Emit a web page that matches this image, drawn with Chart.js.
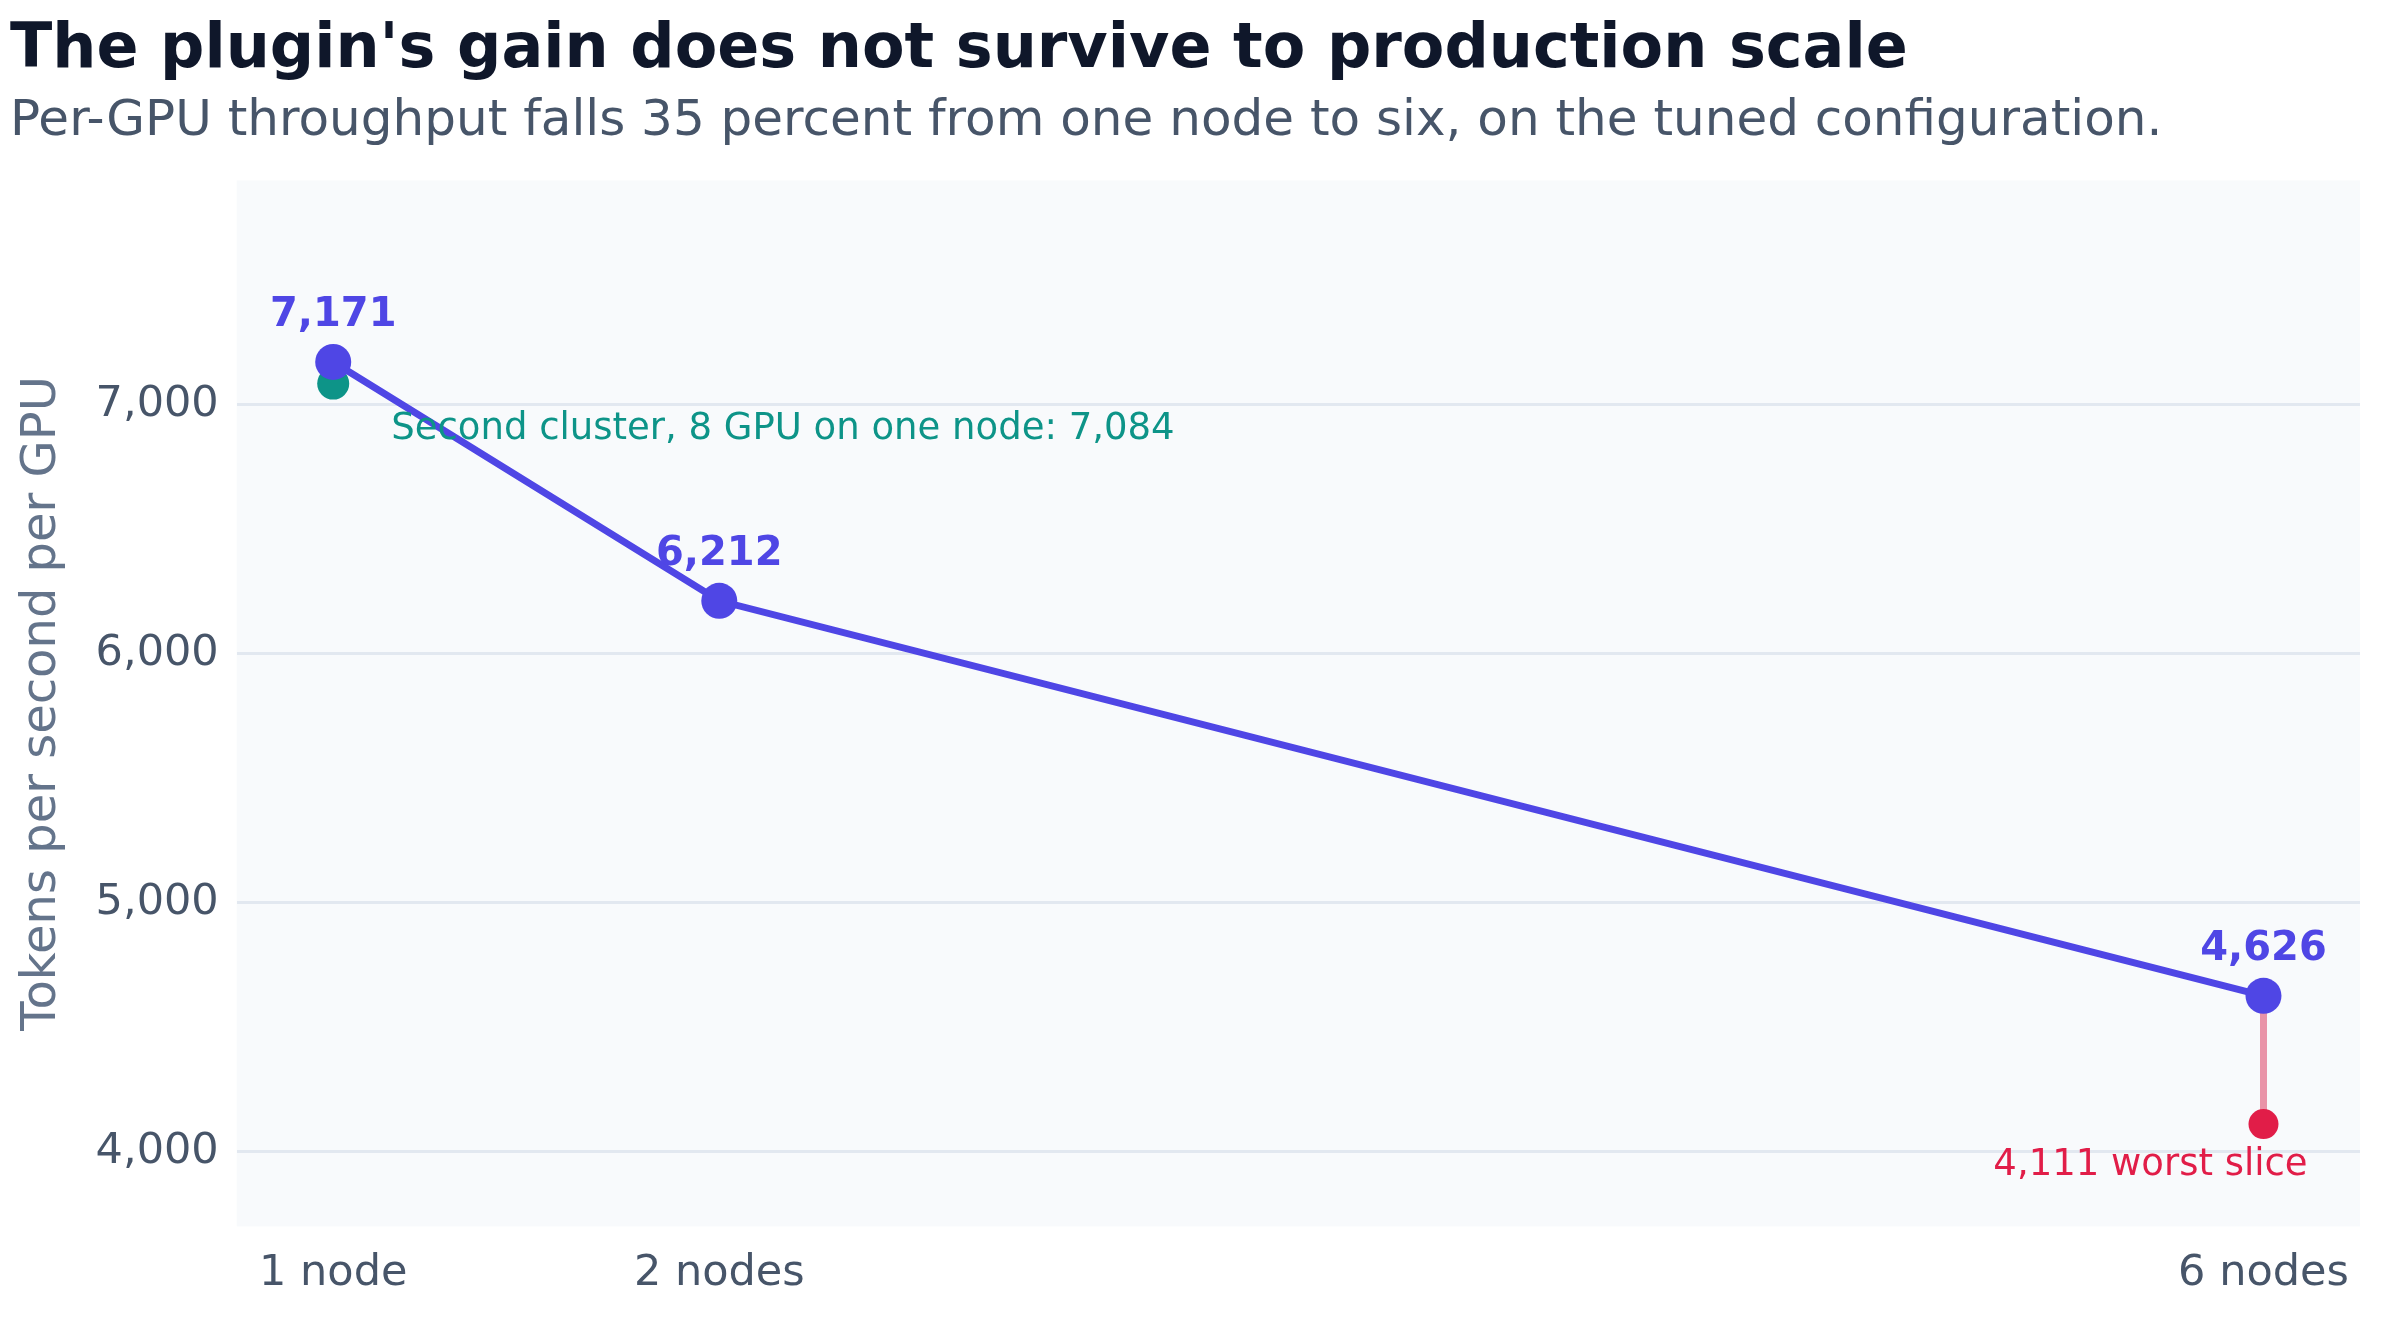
<!DOCTYPE html>
<html><head><meta charset="utf-8">
<script src="https://cdn.jsdelivr.net/npm/chart.js@4"></script>
<style>html,body{margin:0;padding:0;background:#fff}canvas{display:block}</style>
</head><body>
<canvas id="c" width="2400" height="1320"></canvas>
<script>
const nodeCounts = [1, 2, 6];
const nodeLabels = ['1 node', '2 nodes', '6 nodes'];
const throughput = [7171, 6212, 4626];
const secondCluster = 7084;
const worstSlice = 4111;
const yTicks = [4000, 5000, 6000, 7000];
const FONT = "'DejaVu Sans', sans-serif";
const fmt = v => v.toLocaleString('en-US');

const bgPlugin = {
  id: 'bg',
  beforeDraw(chart) {
    const {ctx, chartArea: a} = chart;
    ctx.save(); ctx.fillStyle = '#f8fafc';
    ctx.fillRect(a.left, a.top, a.right - a.left, a.bottom - a.top);
    ctx.restore();
  }
};
const labelPlugin = {
  id: 'labels',
  afterDatasetsDraw(chart) {
    const {ctx, scales: {x, y}} = chart;
    ctx.save();
    ctx.font = `bold 40px ${FONT}`; ctx.fillStyle = '#4f46e5';
    ctx.textAlign = 'center'; ctx.textBaseline = 'bottom';
    nodeCounts.forEach((n, i) => ctx.fillText(fmt(throughput[i]), x.getPixelForValue(n), y.getPixelForValue(throughput[i]) - 26));
    ctx.font = `37px ${FONT}`; ctx.fillStyle = '#0d9488';
    ctx.textAlign = 'left'; ctx.textBaseline = 'middle';
    ctx.fillText('Second cluster, 8 GPU on one node: ' + fmt(secondCluster), x.getPixelForValue(nodeCounts[0]) + 58, y.getPixelForValue(secondCluster) + 46);
    ctx.fillStyle = '#e11d48'; ctx.textAlign = 'center';
    ctx.fillText(fmt(worstSlice) + ' worst slice', x.getPixelForValue(nodeCounts[2]) - 113, y.getPixelForValue(worstSlice) + 41);
    ctx.restore();
  }
};

new Chart(document.getElementById('c'), {
  type: 'line',
  data: {
    datasets: [
      { data: [{x: nodeCounts[2], y: throughput[2]}, {x: nodeCounts[2], y: worstSlice}],
        borderColor: '#e993a8', borderWidth: 7, pointRadius: [0, 15], pointBackgroundColor: '#e11d48', pointBorderWidth: 0, order: 3 },
      { data: [{x: nodeCounts[0], y: secondCluster}], showLine: false,
        pointRadius: 16, pointBackgroundColor: '#0d9488', pointBorderWidth: 0, order: 2 },
      { data: nodeCounts.map((n, i) => ({x: n, y: throughput[i]})),
        borderColor: '#4f46e5', borderWidth: 7, pointRadius: 18, pointBackgroundColor: '#4f46e5', pointBorderWidth: 0, order: 1 }
    ]
  },
  options: {
    responsive: false, devicePixelRatio: 1, animation: false,
    layout: { padding: { left: 10, right: 40, top: 0, bottom: 6 } },
    plugins: {
      legend: { display: false }, tooltip: { enabled: false },
      title: { display: true, text: "The plugin's gain does not survive to production scale", align: 'start',
        color: '#0f172a', font: { family: FONT, size: 62, weight: 'bold' }, padding: { top: 14, bottom: 4 } },
      subtitle: { display: true, text: 'Per-GPU throughput falls 35 percent from one node to six, on the tuned configuration.', align: 'start',
        color: '#475569', font: { family: FONT, size: 50 }, padding: { bottom: 28 } }
    },
    scales: {
      x: { type: 'linear', min: 0.75, max: 6.25,
        afterBuildTicks: s => { s.ticks = nodeCounts.map(v => ({value: v})); },
        ticks: { callback: v => nodeLabels[nodeCounts.indexOf(v)], color: '#475569', font: { family: FONT, size: 43 }, padding: 14, maxRotation: 0, autoSkip: false },
        grid: { display: false }, border: { display: false } },
      y: { min: 3700, max: 7900,
        afterBuildTicks: s => { s.ticks = yTicks.map(v => ({value: v})); },
        ticks: { callback: v => fmt(v), color: '#475569', font: { family: FONT, size: 43 }, padding: 18 },
        grid: { color: '#e2e8f0', lineWidth: 3, drawTicks: false }, border: { display: false },
        title: { display: true, text: 'Tokens per second per GPU', color: '#64748b', font: { family: FONT, size: 48 }, padding: { bottom: 6 } } }
    }
  },
  plugins: [bgPlugin, labelPlugin]
});
</script>
</body></html>
